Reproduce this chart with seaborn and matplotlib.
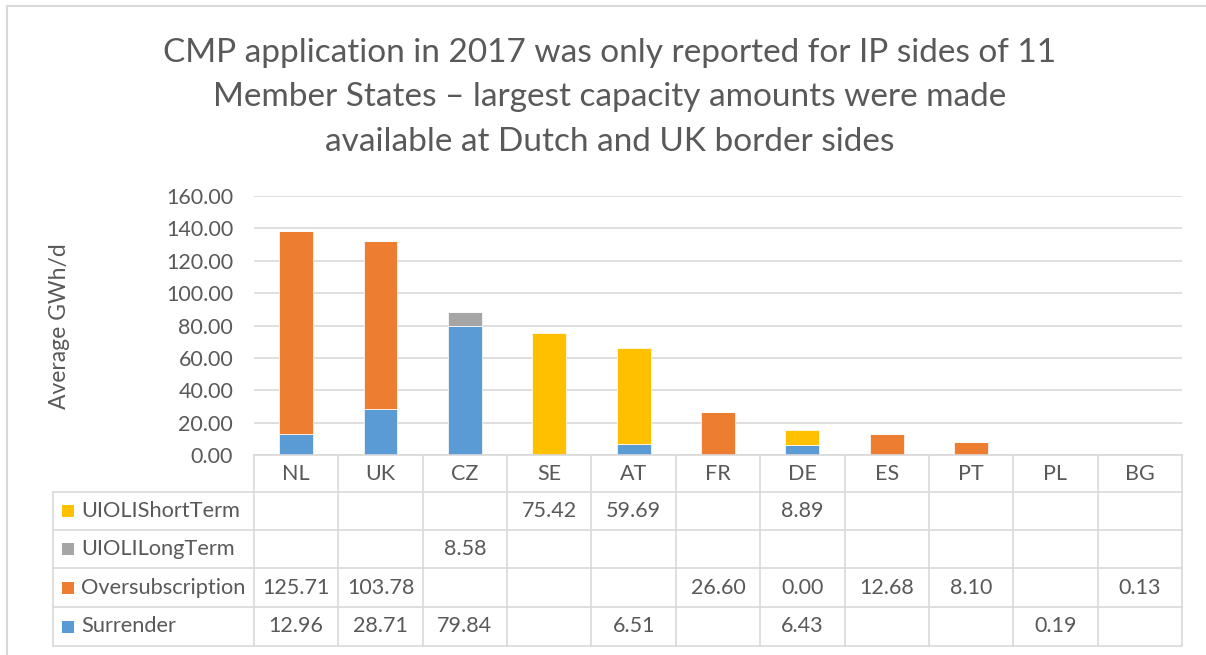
import numpy as np
import pandas as pd
import matplotlib
matplotlib.use("Agg")
import matplotlib.pyplot as plt
import seaborn as sns
from matplotlib.lines import Line2D
from matplotlib.patches import Rectangle
import matplotlib.transforms as mtransforms

# ---------------- data ----------------
countries = ["NL", "UK", "CZ", "SE", "AT", "FR", "DE", "ES", "PT", "PL", "BG"]
surrender = [12.96, 28.71, 79.84, None, 6.51, None, 6.43, None, None, 0.19, None]
oversubscription = [125.71, 103.78, None, None, None, 26.60, 0.00, 12.68, 8.10, None, 0.13]
uioli_long = [None, None, 8.58, None, None, None, None, None, None, None, None]
uioli_short = [None, None, None, 75.42, 59.69, None, 8.89, None, None, None, None]

series_names = ["Surrender", "Oversubscription", "UIOLILongTerm", "UIOLIShortTerm"]
series_colors = ["#5B9BD5", "#ED7D31", "#A5A5A5", "#FFC000"]
table_order = ["UIOLIShortTerm", "UIOLILongTerm", "Oversubscription", "Surrender"]
y_ticks = [0, 20, 40, 60, 80, 100, 120, 140, 160]
y_label = "Average GWh/d"
title_lines = [
    "CMP application in 2017 was only reported for IP sides of 11",
    "Member States \u2013 largest capacity amounts were made",
    "available at Dutch and UK border sides",
]

df = pd.DataFrame({
    "country": countries,
    "Surrender": surrender,
    "Oversubscription": oversubscription,
    "UIOLILongTerm": uioli_long,
    "UIOLIShortTerm": uioli_short,
})

# ---------------- style ----------------
sns.set_theme(style="white")
plt.rcParams["font.family"] = ["Lato", "DejaVu Sans"]
TXT = "#595959"
GRID = "#D9D9D9"

W, H = 1206, 655
fig = plt.figure(figsize=(W / 100, H / 100), dpi=100)
fig.patch.set_facecolor("white")


def fx(px):
    return px / W


def fy(py):
    return 1 - py / H


ax = fig.add_axes([fx(254), fy(455), fx(1182) - fx(254), (455 - 196) / H])

bottom = np.zeros(len(countries))
for name, col in zip(series_names, series_colors):
    vals = df[name].fillna(0).to_numpy(dtype=float)
    sns.barplot(x=df["country"], y=vals, bottom=bottom, order=countries,
                color=col, saturation=1, width=0.4, errorbar=None,
                edgecolor="white", linewidth=0.5, ax=ax)
    bottom = bottom + vals

ax.set_xlim(-0.5, len(countries) - 0.5)
ax.set_ylim(0, 160)
ax.set_yticks(y_ticks)
ax.set_yticklabels([f"{v:.2f}" for v in y_ticks], color=TXT, fontsize=15.5)
ax.tick_params(axis="y", length=0, pad=15)
ax.tick_params(axis="x", length=0, labelbottom=False)
ax.set_xlabel("")
ax.set_ylabel("")
ax.grid(axis="y", color=GRID, linewidth=1.2)
ax.set_axisbelow(True)
for s in ["top", "right", "left"]:
    ax.spines[s].set_visible(False)
ax.spines["bottom"].set_color(GRID)
ax.spines["bottom"].set_linewidth(1.2)

# y label
fig.text(fx(60), fy(326), y_label, rotation=90, ha="center", va="center",
         color=TXT, fontsize=16.5)

# title
for i, line in enumerate(title_lines):
    fig.text(fx(610), fy(53 + 44.5 * i), line, ha="center", va="center",
             color=TXT, fontsize=24)

# ---------------- data table ----------------
blend = mtransforms.blended_transform_factory(ax.transData, fig.transFigure)
row_lines = [492, 530, 568, 607, 646]
row_centers = [(row_lines[i] + row_lines[i + 1]) / 2 for i in range(4)]

# vertical column separators
for k in range(len(countries) + 1):
    xk = k - 0.5
    fig.add_artist(Line2D([xk, xk], [fy(455), fy(646)], transform=blend,
                          color=GRID, linewidth=1.2))
# horizontal row lines
for yl in row_lines:
    fig.add_artist(Line2D([fx(53), fx(1182)], [fy(yl), fy(yl)],
                          transform=fig.transFigure, color=GRID, linewidth=1.2))
fig.add_artist(Line2D([fx(53), fx(53)], [fy(492), fy(646)],
                      transform=fig.transFigure, color=GRID, linewidth=1.2))

# category header
for i, c in enumerate(countries):
    fig.text(i, fy(474), c, transform=blend, ha="center", va="center",
             color=TXT, fontsize=15.5)

# rows
for r, name in enumerate(table_order):
    yc = row_centers[r]
    col = series_colors[series_names.index(name)]
    fig.add_artist(Rectangle((fx(62), fy(yc + 6)), fx(12), 12 / H,
                             transform=fig.transFigure, facecolor=col,
                             edgecolor="none"))
    fig.text(fx(81), fy(yc), name, ha="left", va="center", color=TXT,
             fontsize=15.7)
    for i, v in enumerate(df[name]):
        if pd.notna(v):
            fig.text(i, fy(yc), f"{v:.2f}", transform=blend, ha="center",
                     va="center", color=TXT, fontsize=15.5)

# outer chart frame (partially cropped)
fig.add_artist(Line2D([fx(7), fx(7)], [fy(6), fy(655)],
                      transform=fig.transFigure, color=GRID, linewidth=1.5))
fig.add_artist(Line2D([fx(7), fx(1206)], [fy(6), fy(6)],
                      transform=fig.transFigure, color=GRID, linewidth=1.5))

fig.savefig("out.png", dpi=100, facecolor="white")
